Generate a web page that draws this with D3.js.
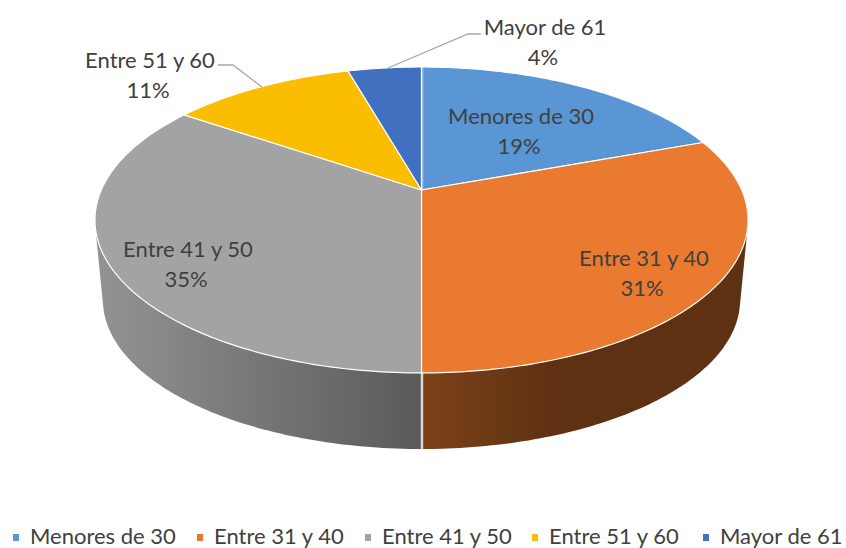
<!DOCTYPE html>
<html>
<head>
<meta charset="utf-8">
<script src="https://d3js.org/d3.v7.min.js"></script>
<style>
html, body { margin: 0; padding: 0; background: #fff; }
svg { display: block; }
text { font-family: Lato, "Open Sans", sans-serif; fill: #404040; }
</style>
</head>
<body>
<script>
// values
var categories = ["Menores de 30", "Entre 31 y 40", "Entre 41 y 50", "Entre 51 y 60", "Mayor de 61"];
var percents = [19.4, 30.6, 34.6, 11, 4.4];
var colors = ["#5996d3", "#ea7a30", "#a3a3a3", "#fbbd00", "#4270c0"];

var width = 846, height = 548;

// label anchors, in pixels on the page
var labelPos = [[521, 124], [644, 266], [188, 257], [150, 68], [545, 35]];
var legendX = [30, 214, 382, 549, 720];
var legendY = 537;
var leaders = [
  [[218, 65], [233, 65], [262, 87]],
  [[388, 68], [468, 34], [481, 34]]
];

var svg = d3.select("body").append("svg")
    .attr("width", width)
    .attr("height", height);

// the disk is seen in perspective, so the center of the pie is not the
// center of the ellipse. x = a*u/(1-k*v), y = y0 + b*v/(1-k*v)
var cx = 421.5, k = 0.196;
var topDisk = { a: 320.2, b: 147.1, y0: 190 };
var lowDisk = { a: 312.4, b: 143.3, y0: 270.8 };

function project(disk, angle, r) {
  var u = Math.sin(angle) * r, v = -Math.cos(angle) * r;
  var w = 1 - k * v;
  return [cx + disk.a * u / w, disk.y0 + disk.b * v / w];
}

function arcPoints(disk, a0, a1) {
  var n = Math.max(2, Math.ceil(Math.abs(a1 - a0) * 60));
  return d3.range(n + 1).map(function(i) {
    return project(disk, a0 + (a1 - a0) * i / n, 1);
  });
}

var pie = d3.pie().sort(null).value(function(d) { return d; });
var slices = pie(percents);
var line = d3.line();
var pct = d3.format(".0f");

var defs = svg.append("defs");

function wallGradient(id, x1, x2, stops) {
  var g = defs.append("linearGradient")
      .attr("id", id)
      .attr("gradientUnits", "userSpaceOnUse")
      .attr("x1", x1).attr("x2", x2).attr("y1", 0).attr("y2", 0);
  stops.forEach(function(s) {
    g.append("stop").attr("offset", s[0]).attr("stop-color", s[1]);
  });
}
wallGradient("wall1", 421, 745, [[0, "#7c4219"], [0.42, "#5e3112"], [1, "#5e3112"]]);
wallGradient("wall2", 97, 421, [[0, "#939393"], [1, "#5a5a5a"]]);

// side walls, only the two front slices show. the hull fills the bit
// between the outline of the top disk and the outline of the lower one
[1, 2].forEach(function(i) {
  var s = slices[i];
  var hull = d3.polygonHull(arcPoints(topDisk, s.startAngle, s.endAngle)
      .concat(arcPoints(lowDisk, s.startAngle, s.endAngle)));
  svg.append("path")
      .attr("d", line(hull) + "Z")
      .attr("fill", "url(#wall" + i + ")");
});

// seam between the two walls
svg.append("line")
    .attr("x1", cx + 0.5).attr("x2", cx + 0.5)
    .attr("y1", project(topDisk, Math.PI, 1)[1])
    .attr("y2", project(lowDisk, Math.PI, 1)[1])
    .attr("stroke", "#fff").attr("stroke-width", 2.5).attr("stroke-opacity", 0.75);

// top of the pie
svg.selectAll(".slice")
    .data(slices)
  .enter().append("path")
    .attr("class", "slice")
    .attr("d", function(d) {
      return line([project(topDisk, 0, 0)].concat(arcPoints(topDisk, d.startAngle, d.endAngle))) + "Z";
    })
    .attr("fill", function(d, i) { return colors[i]; })
    .attr("stroke", "#fff")
    .attr("stroke-width", 1.2)
    .attr("stroke-linejoin", "round");

// pale line at the top of the pie, over the blue
svg.append("line")
    .attr("x1", cx + 1).attr("x2", cx + 1)
    .attr("y1", project(topDisk, 0, 1)[1])
    .attr("y2", project(topDisk, 0, 0)[1])
    .attr("stroke", "#fff").attr("stroke-width", 2).attr("stroke-opacity", 0.3);

// leader lines
svg.selectAll(".leader")
    .data(leaders)
  .enter().append("path")
    .attr("class", "leader")
    .attr("d", line)
    .attr("fill", "none")
    .attr("stroke", "#a6a6a6")
    .attr("stroke-width", 1.3);

// data labels
categories.forEach(function(c, i) {
  var t = svg.append("text")
      .attr("x", labelPos[i][0])
      .attr("y", labelPos[i][1])
      .attr("text-anchor", "middle")
      .style("font-size", "22px");
  t.append("tspan").text(c);
  t.append("tspan")
      .attr("x", labelPos[i][0] - 2)
      .attr("dy", 30)
      .text(pct(percents[i]) + "%");
});

// legend
var legend = svg.selectAll(".legend")
    .data(categories)
  .enter().append("g")
    .attr("class", "legend");

legend.append("rect")
    .attr("x", function(d, i) { return legendX[i] - 17; })
    .attr("y", legendY - 3)
    .attr("width", 6)
    .attr("height", 7)
    .attr("fill", function(d, i) { return colors[i]; });

legend.append("text")
    .attr("x", function(d, i) { return legendX[i]; })
    .attr("y", legendY + 7)
    .style("font-size", "22px")
    .text(function(d) { return d; });
</script>
</body>
</html>
